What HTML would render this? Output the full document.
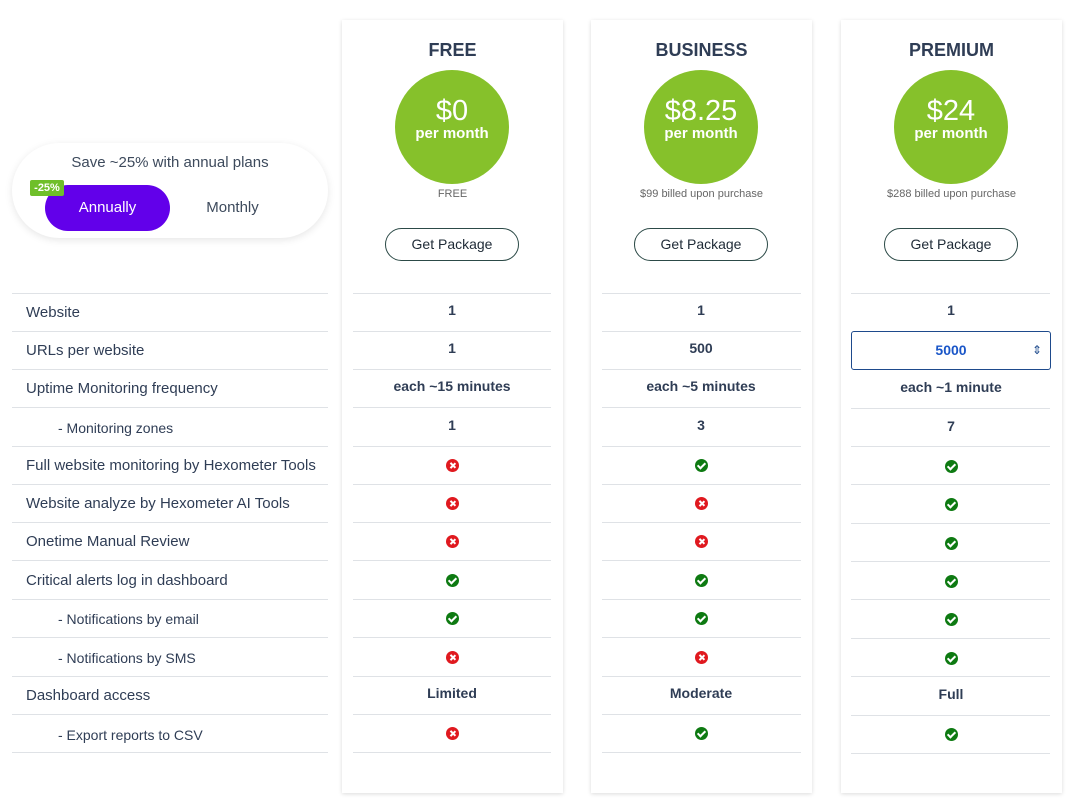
<!DOCTYPE html>
<html><head><meta charset="utf-8"><style>
*{margin:0;padding:0;box-sizing:border-box}
body{width:1070px;height:803px;background:#fff;position:relative;overflow:hidden;font-family:"Liberation Sans",sans-serif;color:#2f3d55}
.card{position:absolute;top:20px;height:773px;width:221px;background:#fff;box-shadow:0 1px 4px rgba(0,0,0,.14)}
.t{position:absolute;width:100%;text-align:center;top:20px;font-size:18px;font-weight:bold;color:#2f3d55}
.circ{position:absolute;left:53px;top:50px;width:114px;height:114px;border-radius:50%;background:#86c12b;color:#fff;text-align:center}
.circ b{display:block;font-size:29px;font-weight:normal;margin-top:26px;line-height:30px}
.circ i{display:block;font-style:normal;font-weight:bold;font-size:15px;line-height:16px}
.sub{position:absolute;width:100%;text-align:center;top:168px;font-size:11px;color:#666}
.btn{position:absolute;left:43px;top:208px;width:134px;height:33px;border:1px solid #2c4a47;border-radius:17px;text-align:center;line-height:31px;font-size:14px;color:#1e2a36}
.ln{position:absolute;height:1px;background:#dfe2e6}
.c{position:absolute;width:200px;text-align:center;font-size:14px;font-weight:bold;color:#2f3d55;line-height:16px}
.l{position:absolute;left:26px;font-size:15px;color:#2f3d55;line-height:16px}
.l.s{left:58px;font-size:14px}
.ok,.no{display:inline-block;width:13px;height:13px;border-radius:50%;vertical-align:middle;position:relative}
.ok{background:#0e7a12}.no{background:#e0191f}
.ok:after{content:"";position:absolute;left:4px;top:2px;width:3px;height:6px;border:solid #fff;border-width:0 2px 2px 0;transform:rotate(45deg)}
.no:before,.no:after{content:"";position:absolute;left:6px;top:3px;width:1.6px;height:7px;background:#fff;transform:rotate(45deg)}
.no:after{transform:rotate(-45deg)}
</style></head><body>

<div style="position:absolute;left:12px;top:143px;width:316px;height:95px;border-radius:48px;background:#fff;box-shadow:0 2px 8px rgba(0,0,0,.1)"></div>
<div style="position:absolute;left:12px;top:154px;width:316px;text-align:center;font-size:15px;color:#3d4a5c">Save ~25% with annual plans</div>
<div style="position:absolute;left:45px;top:185px;width:125px;height:46px;border-radius:23px;background:#6200ea;color:#fff;text-align:center;line-height:46px;font-size:15px">Annually</div>
<div style="position:absolute;left:30px;top:180px;width:34px;height:16px;background:#6fbf2a;color:#fff;font-size:11px;font-weight:bold;text-align:center;line-height:16px;border-radius:2px">-25%</div>
<div style="position:absolute;left:170px;top:185px;width:125px;line-height:46px;text-align:center;font-size:15px;color:#3d4a5c">Monthly</div>

<div class="card" style="left:342px"><div class="t">FREE</div><div class="circ"><b>$0</b><i>per month</i></div><div class="sub">FREE</div><div class="btn">Get Package</div></div>
<div class="card" style="left:591px"><div class="t">BUSINESS</div><div class="circ"><b>$8.25</b><i>per month</i></div><div class="sub">$99 billed upon purchase</div><div class="btn">Get Package</div></div>
<div class="card" style="left:841px"><div class="t">PREMIUM</div><div class="circ"><b>$24</b><i>per month</i></div><div class="sub">$288 billed upon purchase</div><div class="btn">Get Package</div></div>

<div class="ln" style="left:12px;width:316px;top:293px"></div><div class="ln" style="left:353px;width:198px;top:293px"></div><div class="ln" style="left:602px;width:199px;top:293px"></div><div class="ln" style="left:851px;width:199px;top:293px"></div>
<div class="ln" style="left:12px;width:316px;top:331px"></div><div class="ln" style="left:353px;width:198px;top:331px"></div><div class="ln" style="left:602px;width:199px;top:331px"></div>
<div class="ln" style="left:12px;width:316px;top:369px"></div><div class="ln" style="left:353px;width:198px;top:369px"></div><div class="ln" style="left:602px;width:199px;top:369px"></div>
<div class="ln" style="left:12px;width:316px;top:407px"></div><div class="ln" style="left:353px;width:198px;top:407px"></div><div class="ln" style="left:602px;width:199px;top:407px"></div><div class="ln" style="left:851px;width:199px;top:408px"></div>
<div class="ln" style="left:12px;width:316px;top:446px"></div><div class="ln" style="left:353px;width:198px;top:446px"></div><div class="ln" style="left:602px;width:199px;top:446px"></div><div class="ln" style="left:851px;width:199px;top:446px"></div>
<div class="ln" style="left:12px;width:316px;top:484px"></div><div class="ln" style="left:353px;width:198px;top:484px"></div><div class="ln" style="left:602px;width:199px;top:484px"></div><div class="ln" style="left:851px;width:199px;top:484px"></div>
<div class="ln" style="left:12px;width:316px;top:522px"></div><div class="ln" style="left:353px;width:198px;top:522px"></div><div class="ln" style="left:602px;width:199px;top:522px"></div><div class="ln" style="left:851px;width:199px;top:523px"></div>
<div class="ln" style="left:12px;width:316px;top:560px"></div><div class="ln" style="left:353px;width:198px;top:560px"></div><div class="ln" style="left:602px;width:199px;top:560px"></div><div class="ln" style="left:851px;width:199px;top:561px"></div>
<div class="ln" style="left:12px;width:316px;top:599px"></div><div class="ln" style="left:353px;width:198px;top:599px"></div><div class="ln" style="left:602px;width:199px;top:599px"></div><div class="ln" style="left:851px;width:199px;top:599px"></div>
<div class="ln" style="left:12px;width:316px;top:637px"></div><div class="ln" style="left:353px;width:198px;top:637px"></div><div class="ln" style="left:602px;width:199px;top:637px"></div><div class="ln" style="left:851px;width:199px;top:638px"></div>
<div class="ln" style="left:12px;width:316px;top:676px"></div><div class="ln" style="left:353px;width:198px;top:676px"></div><div class="ln" style="left:602px;width:199px;top:676px"></div><div class="ln" style="left:851px;width:199px;top:676px"></div>
<div class="ln" style="left:12px;width:316px;top:714px"></div><div class="ln" style="left:353px;width:198px;top:714px"></div><div class="ln" style="left:602px;width:199px;top:714px"></div><div class="ln" style="left:851px;width:199px;top:715px"></div>
<div class="ln" style="left:12px;width:316px;top:752px"></div><div class="ln" style="left:353px;width:198px;top:752px"></div><div class="ln" style="left:602px;width:199px;top:752px"></div><div class="ln" style="left:851px;width:199px;top:753px"></div>

<div style="position:absolute;left:851px;top:331px;width:200px;height:39px;border:1px solid #1e4a8c;border-radius:3px;text-align:center;line-height:37px;font-size:14px;font-weight:bold;color:#1a56c8">5000<span style="position:absolute;right:8px;top:0;font-size:12px;color:#1e4a8c;font-weight:normal">&#8661;</span></div>

<div class="l" style="top:305px">Website</div>
<div class="l" style="top:343px">URLs per website</div>
<div class="l" style="top:381px">Uptime Monitoring frequency</div>
<div class="l s" style="top:420px">- Monitoring zones</div>
<div class="l" style="top:458px">Full website monitoring by Hexometer Tools</div>
<div class="l" style="top:496px">Website analyze by Hexometer AI Tools</div>
<div class="l" style="top:534px">Onetime Manual Review</div>
<div class="l" style="top:573px">Critical alerts log in dashboard</div>
<div class="l s" style="top:611px">- Notifications by email</div>
<div class="l s" style="top:650px">- Notifications by SMS</div>
<div class="l" style="top:688px">Dashboard access</div>
<div class="l s" style="top:727px">- Export reports to CSV</div>

<div class="c" style="left:352px;top:302px">1</div>
<div class="c" style="left:352px;top:340px">1</div>
<div class="c" style="left:352px;top:378px">each ~15 minutes</div>
<div class="c" style="left:352px;top:417px">1</div>
<div class="c" style="left:352px;top:456px"><span class="no"></span></div>
<div class="c" style="left:352px;top:494px"><span class="no"></span></div>
<div class="c" style="left:352px;top:532px"><span class="no"></span></div>
<div class="c" style="left:352px;top:571px"><span class="ok"></span></div>
<div class="c" style="left:352px;top:609px"><span class="ok"></span></div>
<div class="c" style="left:352px;top:648px"><span class="no"></span></div>
<div class="c" style="left:352px;top:685px">Limited</div>
<div class="c" style="left:352px;top:724px"><span class="no"></span></div>

<div class="c" style="left:601px;top:302px">1</div>
<div class="c" style="left:601px;top:340px">500</div>
<div class="c" style="left:601px;top:378px">each ~5 minutes</div>
<div class="c" style="left:601px;top:417px">3</div>
<div class="c" style="left:601px;top:456px"><span class="ok"></span></div>
<div class="c" style="left:601px;top:494px"><span class="no"></span></div>
<div class="c" style="left:601px;top:532px"><span class="no"></span></div>
<div class="c" style="left:601px;top:571px"><span class="ok"></span></div>
<div class="c" style="left:601px;top:609px"><span class="ok"></span></div>
<div class="c" style="left:601px;top:648px"><span class="no"></span></div>
<div class="c" style="left:601px;top:685px">Moderate</div>
<div class="c" style="left:601px;top:724px"><span class="ok"></span></div>

<div class="c" style="left:851px;top:302px">1</div>
<div class="c" style="left:851px;top:379px">each ~1 minute</div>
<div class="c" style="left:851px;top:418px">7</div>
<div class="c" style="left:851px;top:457px"><span class="ok"></span></div>
<div class="c" style="left:851px;top:495px"><span class="ok"></span></div>
<div class="c" style="left:851px;top:534px"><span class="ok"></span></div>
<div class="c" style="left:851px;top:572px"><span class="ok"></span></div>
<div class="c" style="left:851px;top:610px"><span class="ok"></span></div>
<div class="c" style="left:851px;top:649px"><span class="ok"></span></div>
<div class="c" style="left:851px;top:686px">Full</div>
<div class="c" style="left:851px;top:725px"><span class="ok"></span></div>
</body></html>
